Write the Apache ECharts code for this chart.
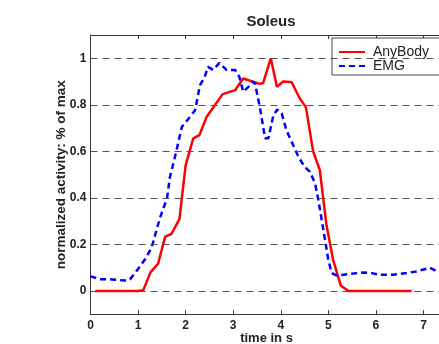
<!DOCTYPE html>
<html>
<head>
<meta charset="utf-8">
<script src="https://cdn.jsdelivr.net/npm/echarts@6/dist/echarts.min.js"></script>
<style>
  html, body { margin: 0; padding: 0; background: #fff; }
  #chart { width: 439px; height: 344px; }
</style>
</head>
<body>
<div id="chart"></div>
<script>
// values
const anyBodyTime = [0.1, 1.0, 1.11, 1.26, 1.42, 1.57, 1.7, 1.87, 2.0, 2.16, 2.29, 2.44, 2.62, 2.78, 3.04, 3.21, 3.56, 3.63, 3.79, 3.92, 4.05, 4.23, 4.4, 4.53, 4.68, 4.82, 4.96, 5.1, 5.26, 5.42, 6.75];
const anyBodyValues = [0, 0, 0.003, 0.08, 0.117, 0.234, 0.245, 0.309, 0.54, 0.656, 0.67, 0.748, 0.8, 0.846, 0.863, 0.913, 0.89, 0.894, 1.0, 0.877, 0.9, 0.897, 0.827, 0.789, 0.6, 0.52, 0.284, 0.134, 0.024, 0, 0];

const emgTime = [0, 0.2, 0.45, 0.72, 0.83, 1.0, 1.14, 1.28, 1.46, 1.61, 1.67, 1.76, 1.81, 1.92, 2.06, 2.2, 2.3, 2.4, 2.47, 2.58, 2.71, 2.86, 3.04, 3.13, 3.21, 3.32, 3.42, 3.46, 3.56, 3.67, 3.74, 3.84, 3.92, 4.02, 4.12, 4.26, 4.37, 4.5, 4.61, 4.72, 4.79, 4.86, 4.93, 5.0, 5.07, 5.17, 5.45, 5.73, 5.91, 6.08, 6.36, 6.64, 6.85, 7.13, 7.32, 7.4];
const emgValues = [0.063, 0.051, 0.05, 0.045, 0.05, 0.095, 0.134, 0.184, 0.314, 0.40, 0.49, 0.563, 0.606, 0.705, 0.74, 0.777, 0.884, 0.92, 0.963, 0.95, 0.98, 0.95, 0.95, 0.92, 0.856, 0.877, 0.9, 0.89, 0.79, 0.656, 0.656, 0.75, 0.78, 0.763, 0.69, 0.627, 0.577, 0.534, 0.513, 0.463, 0.391, 0.306, 0.22, 0.134, 0.077, 0.067, 0.073, 0.08, 0.077, 0.07, 0.07, 0.077, 0.084, 0.10, 0.081, 0.078];

const yTicks = [0, 0.2, 0.4, 0.6, 0.8, 1];
const xTicks = [0, 1, 2, 3, 4, 5, 6, 7];

const zip = (xs, ys) => xs.map((x, i) => [x, ys[i]]);
const fontFamily = "Liberation Sans, Arial, sans-serif";

const chart = echarts.init(document.getElementById("chart"));

chart.setOption({
  animation: false,
  title: {
    text: "Soleus",
    left: 266,
    textAlign: "center",
    top: 9,
    textStyle: { fontFamily, fontSize: 15, fontWeight: "bold", color: "#222" },
  },
  legend: {
    data: ["AnyBody", "EMG"],
    orient: "vertical",
    left: 332,
    top: 38,
    itemWidth: 26,
    itemHeight: 10,
    itemGap: 0,
    padding: [7, 12, 2, 6],
    borderColor: "#444",
    borderWidth: 1,
    backgroundColor: "#fff",
    itemStyle: { color: "rgba(0,0,0,0)", borderWidth: 0, opacity: 0 },
    textStyle: { fontFamily, fontSize: 14, lineHeight: 13.6, color: "#222", padding: [0, 0, 0, 3] },
  },
  grid: {
    left: 90.5, top: 35, width: 352, height: 279.3,
    containLabel: false, outerBoundsMode: "none",
  },
  xAxis: [
    {
      type: "value",
      min: 0,
      max: 7.4,
      interval: 1,
      name: "time in s",
      nameLocation: "middle",
      nameGap: 18,
      nameMoveOverlap: false,
      nameTextStyle: { fontFamily, fontSize: 13, fontWeight: "bold", color: "#222" },
      axisLine: { onZero: false, lineStyle: { color: "#333", width: 1 } },
      axisTick: { inside: true, length: 4, lineStyle: { color: "#333" } },
      axisLabel: {
        fontFamily, fontSize: 12, fontWeight: "bold", color: "#222", margin: 5,
        customValues: xTicks,
      },
      splitLine: { show: false },
    },
    {
      type: "value",
      position: "top",
      min: 0,
      max: 7.4,
      interval: 1,
      axisLine: { onZero: false, lineStyle: { color: "#333", width: 1 } },
      axisTick: { inside: true, length: 4, lineStyle: { color: "#333" } },
      axisLabel: { show: false },
      splitLine: { show: false },
    },
  ],
  yAxis: {
    type: "value",
    min: -0.1,
    max: 1.1,
    name: "normalized activity: % of max",
    nameLocation: "middle",
    nameGap: 22,
    nameMoveOverlap: false,
    nameTextStyle: { fontFamily, fontSize: 13.5, fontWeight: "bold", color: "#222" },
    axisLine: { show: true, onZero: false, lineStyle: { color: "#333", width: 1 } },
    axisTick: { inside: true, length: 4, lineStyle: { color: "#333" }, customValues: yTicks },
    axisLabel: {
      fontFamily, fontSize: 12, fontWeight: "bold", color: "#222", margin: 4,
      customValues: yTicks,
      formatter: (v) => String(Math.round(v * 10) / 10),
    },
    splitLine: { show: false },
  },
  series: [
    {
      name: "grid",
      type: "line",
      data: [],
      z: 1,
      silent: true,
      markLine: {
        silent: true,
        symbol: "none",
        label: { show: false },
        lineStyle: { color: "#555", type: [7, 5], width: 1 },
        data: yTicks.map((v) => ({ yAxis: v })),
      },
    },
    {
      name: "AnyBody",
      type: "line",
      data: zip(anyBodyTime, anyBodyValues),
      symbol: "none",
      z: 3,
      lineStyle: { color: "#ff0000", width: 2.5 },
      itemStyle: { color: "#ff0000" },
    },
    {
      name: "EMG",
      type: "line",
      data: zip(emgTime, emgValues),
      symbol: "none",
      z: 3,
      lineStyle: { color: "#0000ff", width: 2.5, type: [6, 4] },
      itemStyle: { color: "#0000ff" },
    },
  ],
});
</script>
</body>
</html>
